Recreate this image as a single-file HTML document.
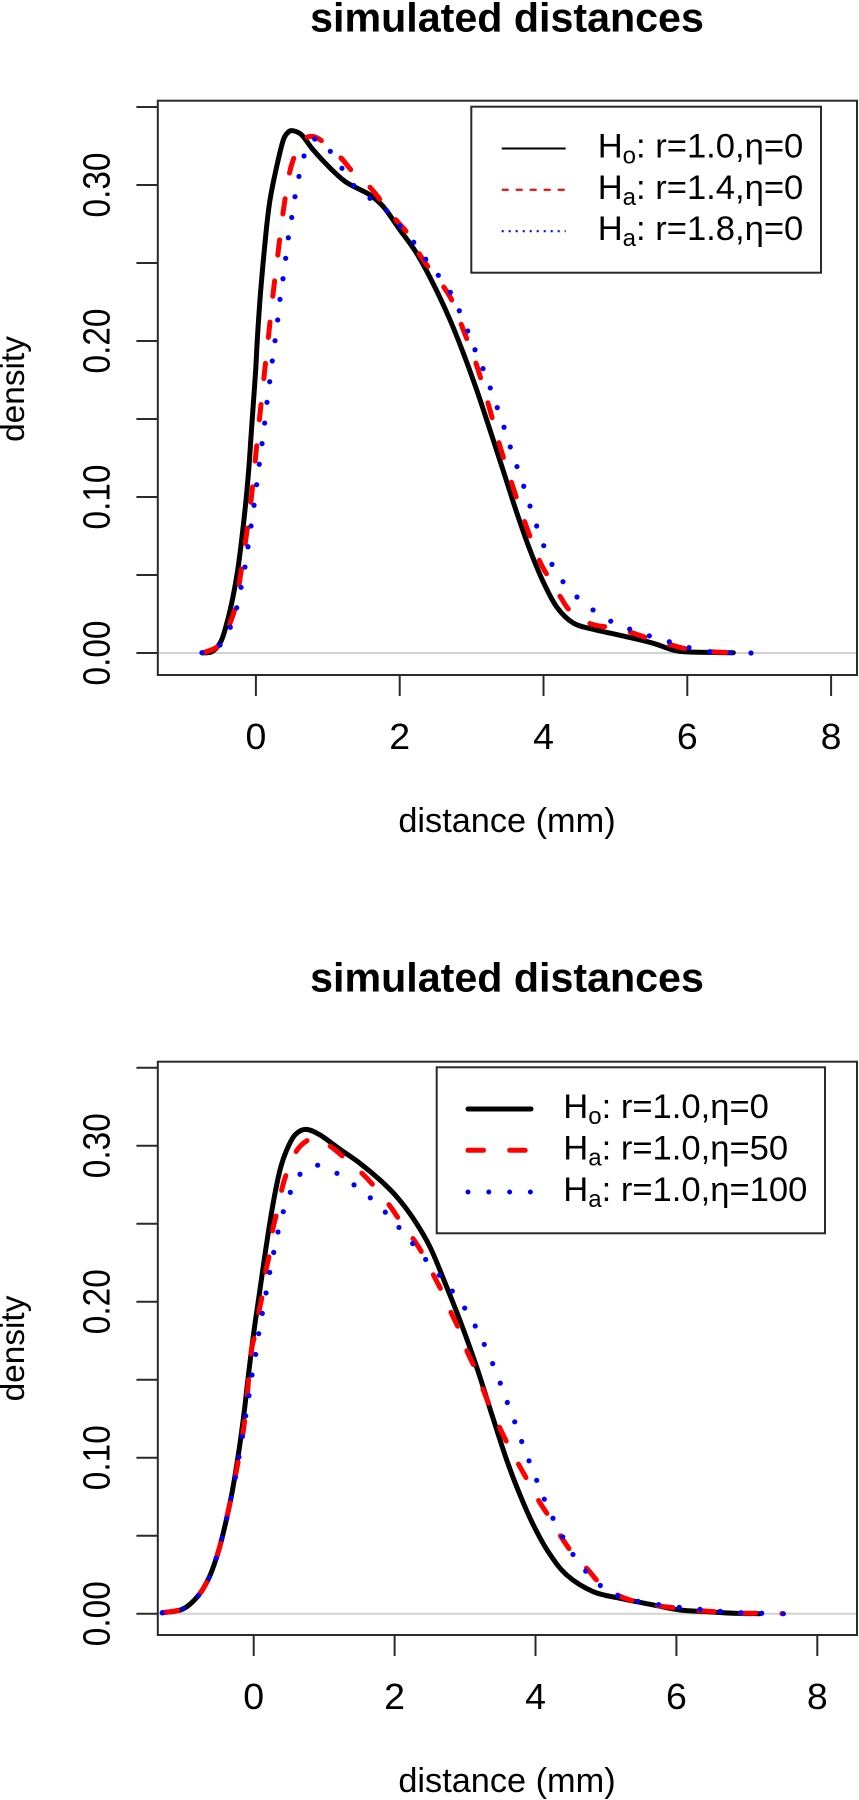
<!DOCTYPE html>
<html lang="en">
<head>
<meta charset="utf-8">
<title>simulated distances</title>
<style>
html,body{margin:0;padding:0;background:#fff;}
svg{display:block;font-family:"Liberation Sans",Arial,sans-serif;}
</style>
</head>
<body>
<svg id="chart" xmlns="http://www.w3.org/2000/svg" width="859" height="1800" viewBox="0 0 859 1800">
  <g id="panelTop"></g>
  <g id="panelBottom"></g>
</svg>
<script>
// ---------- shared tick values ----------
var xTicks = [0, 2, 4, 6, 8];
var yTicks = [0, 0.05, 0.10, 0.15, 0.20, 0.25, 0.30, 0.35];
var yTickLabels = ["0.00", "", "0.10", "", "0.20", "", "0.30", ""];

// ---------- top panel series ----------
var topBlackX = [-0.750,-0.615,-0.499,-0.430,-0.337,-0.253,-0.193,-0.142,-0.100,-0.068,-0.035,-0.003,0.025,0.071,0.140,0.196,0.289,0.381,0.446,0.512,0.637,0.798,1.031,1.239,1.402,1.587,1.772,2.004,2.236,2.467,2.700,2.885,3.071,3.256,3.441,3.627,3.812,3.997,4.184,4.414,4.693,5.157,5.527,5.805,6.038,6.640];
var topBlackY = [0.0001,0.0008,0.0063,0.0148,0.0319,0.0532,0.0746,0.0960,0.1173,0.1387,0.1603,0.1814,0.2051,0.2348,0.2692,0.2904,0.3118,0.3288,0.3337,0.3348,0.3321,0.3224,0.3109,0.3023,0.2981,0.2936,0.2861,0.2712,0.2562,0.2366,0.2135,0.1922,0.1686,0.1429,0.1167,0.0901,0.0660,0.0455,0.0295,0.0192,0.0152,0.0104,0.0062,0.0019,0.0006,0.0002];

var topRedX = [-0.732,-0.569,-0.444,-0.360,-0.291,-0.235,-0.152,-0.072,-0.013,0.047,0.108,0.172,0.234,0.303,0.373,0.465,0.534,0.613,0.707,0.822,0.947,1.188,1.346,1.587,1.750,1.949,2.120,2.273,2.421,2.616,2.745,2.885,3.061,3.232,3.385,3.558,3.743,3.951,4.067,4.239,4.383,4.661,4.901,5.227,5.458,5.783,6.014,6.316,6.640];
var topRedY = [0.0002,0.0030,0.0083,0.0190,0.0287,0.0436,0.0692,0.0960,0.1220,0.1489,0.1750,0.2017,0.2284,0.2545,0.2808,0.3071,0.3181,0.3269,0.3306,0.3308,0.3271,0.3171,0.3085,0.2985,0.2893,0.2776,0.2684,0.2558,0.2460,0.2344,0.2242,0.2071,0.1857,0.1596,0.1340,0.1088,0.0835,0.0585,0.0489,0.0357,0.0265,0.0186,0.0165,0.0130,0.0094,0.0051,0.0024,0.0008,0.0002];

var topBlueX = [-0.750,-0.499,-0.356,-0.267,-0.207,-0.152,-0.110,-0.068,-0.026,0.011,0.047,0.085,0.122,0.154,0.192,0.228,0.266,0.303,0.335,0.377,0.414,0.451,0.498,0.544,0.599,0.669,0.818,1.035,1.197,1.360,1.587,1.819,2.004,2.195,2.362,2.537,2.704,2.829,2.946,3.047,3.159,3.260,3.357,3.451,3.538,3.631,3.725,3.812,3.905,4.003,4.118,4.271,4.466,4.689,4.935,5.199,5.472,5.750,6.024,6.312,6.604,6.886];
var topBlueY = [0.0002,0.0051,0.0165,0.0290,0.0421,0.0551,0.0681,0.0814,0.0947,0.1079,0.1210,0.1342,0.1474,0.1607,0.1739,0.1872,0.2002,0.2135,0.2267,0.2399,0.2530,0.2662,0.2792,0.2925,0.3055,0.3186,0.3295,0.3216,0.3107,0.2997,0.2915,0.2836,0.2737,0.2633,0.2524,0.2421,0.2312,0.2194,0.2064,0.1944,0.1823,0.1699,0.1573,0.1447,0.1321,0.1195,0.1069,0.0942,0.0814,0.0688,0.0568,0.0457,0.0359,0.0276,0.0204,0.0153,0.0110,0.0072,0.0035,0.0008,0.0002,0.0000];

// ---------- bottom panel series ----------
var botBlackX = [-1.297,-1.004,-0.786,-0.634,-0.531,-0.450,-0.322,-0.223,-0.142,-0.071,0.000,0.082,0.170,0.267,0.373,0.468,0.586,0.742,0.941,1.225,1.509,1.793,2.030,2.265,2.502,2.740,2.952,3.165,3.378,3.591,3.780,3.969,4.182,4.443,4.820,5.199,5.672,6.051,6.430,6.808,7.187];
var botBlackY = [0.0006,0.0030,0.0116,0.0231,0.0356,0.0484,0.0742,0.1005,0.1268,0.1544,0.1800,0.2056,0.2332,0.2608,0.2844,0.2972,0.3069,0.3105,0.3069,0.2977,0.2887,0.2780,0.2673,0.2533,0.2351,0.2094,0.1851,0.1581,0.1280,0.0985,0.0761,0.0569,0.0396,0.0248,0.0141,0.0099,0.0056,0.0024,0.0013,0.0003,0.0000];

var botRedX = [-1.297,-1.004,-0.786,-0.634,-0.531,-0.450,-0.322,-0.209,-0.120,-0.038,0.018,0.075,0.122,0.170,0.221,0.270,0.326,0.397,0.468,0.610,0.775,0.913,1.107,1.296,1.547,1.722,1.935,2.077,2.275,2.407,2.564,2.677,2.811,2.918,3.032,3.141,3.259,3.354,3.496,3.614,3.766,3.898,4.054,4.192,4.372,4.528,4.749,4.915,5.185,5.436,5.767,6.027,6.359,6.619,6.949,7.211,7.517];
var botRedY = [0.0006,0.0032,0.0116,0.0231,0.0356,0.0484,0.0742,0.1005,0.1268,0.1669,0.1787,0.1936,0.2043,0.2192,0.2299,0.2460,0.2567,0.2716,0.2823,0.2968,0.3037,0.3046,0.2990,0.2919,0.2819,0.2733,0.2613,0.2519,0.2396,0.2299,0.2160,0.2060,0.1921,0.1819,0.1679,0.1573,0.1434,0.1327,0.1188,0.1081,0.0953,0.0846,0.0718,0.0622,0.0487,0.0387,0.0280,0.0195,0.0115,0.0077,0.0049,0.0035,0.0019,0.0011,0.0003,0.0003,0.0000];

var botBlueX = [-1.297,-1.004,-0.786,-0.634,-0.531,-0.450,-0.383,-0.322,-0.261,-0.209,-0.162,-0.114,-0.067,-0.024,0.028,0.071,0.122,0.175,0.227,0.284,0.345,0.420,0.520,0.657,0.908,1.182,1.424,1.655,1.868,2.062,2.257,2.441,2.635,2.819,2.995,3.145,3.273,3.392,3.500,3.600,3.705,3.804,3.908,4.017,4.125,4.248,4.386,4.532,4.713,4.920,5.171,5.455,5.749,6.041,6.335,6.623,6.917,7.211,7.517];
var botBlueY = [0.0006,0.0032,0.0116,0.0231,0.0356,0.0484,0.0613,0.0742,0.0873,0.1005,0.1136,0.1268,0.1398,0.1530,0.1662,0.1795,0.1925,0.2056,0.2188,0.2316,0.2447,0.2577,0.2701,0.2817,0.2875,0.2823,0.2749,0.2666,0.2574,0.2476,0.2373,0.2271,0.2170,0.2068,0.1959,0.1844,0.1726,0.1603,0.1478,0.1354,0.1230,0.1104,0.0980,0.0855,0.0734,0.0612,0.0493,0.0380,0.0273,0.0181,0.0115,0.0079,0.0058,0.0041,0.0028,0.0015,0.0006,0.0003,0.0000];

// ---------- legend text ----------
var topLegendSubs = ["o", "a", "a"];
var topLegendTexts = [": r=1.0,\u03B7=0", ": r=1.4,\u03B7=0", ": r=1.8,\u03B7=0"];
var botLegendSubs = ["o", "a", "a"];
var botLegendTexts = [": r=1.0,\u03B7=0", ": r=1.0,\u03B7=50", ": r=1.0,\u03B7=100"];

// ---------- axis functions ----------
function xScaleTop(v) { return 255.9 + 71.9 * v; }
function yScaleTop(v) { return 653 - 1560 * v; }
function xScaleBot(v) { return 253.7 + 70.45 * v; }
function yScaleBot(v) { return 1613.7 - 1560 * v; }

var NS = "http://www.w3.org/2000/svg";
var AXIS = "#2a2a2a";

function mk(tag, parent, attrs) {
  var el = document.createElementNS(NS, tag);
  for (var k in attrs) el.setAttribute(k, attrs[k]);
  parent.appendChild(el);
  return el;
}

function smoothPath(xs, ys, sx, sy) {
  var p = xs.map(function (x, i) { return [sx(x), sy(ys[i])]; });
  var d = "M" + p[0][0].toFixed(2) + " " + p[0][1].toFixed(2);
  for (var i = 0; i < p.length - 1; i++) {
    var a = p[Math.max(i - 1, 0)], b = p[i], c = p[i + 1], e = p[Math.min(i + 2, p.length - 1)];
    var c1x = b[0] + (c[0] - a[0]) / 6, c1y = b[1] + (c[1] - a[1]) / 6;
    var c2x = c[0] - (e[0] - b[0]) / 6, c2y = c[1] - (e[1] - b[1]) / 6;
    d += "C" + c1x.toFixed(2) + " " + c1y.toFixed(2) + " " + c2x.toFixed(2) + " " + c2y.toFixed(2) + " " + c[0].toFixed(2) + " " + c[1].toFixed(2);
  }
  return d;
}

function drawPanel(g, opt) {
  var L = 157.8, R = 857;
  var sx = opt.sx, sy = opt.sy;

  var title = mk("text", g, {"x": 507, "y": opt.titleY, "text-anchor": "middle", "font-size": "41.2", "font-weight": "700", "fill": "#000"});
  
  
  title.textContent = "simulated distances";

  var zero = mk("line", g, {x1: L, x2: R, y1: sy(0), y2: sy(0), stroke: "#d2d2d2", "stroke-width": 2});
  
  

  var box = mk("rect", g, {x: L, y: opt.top, width: R - L, height: opt.bottom - opt.top, fill: "none", stroke: AXIS, "stroke-width": 2});
  
  

  yTicks.forEach(function (v, i) {
    var t = mk("line", g, {x1: 136.4, x2: L, y1: sy(v), y2: sy(v), stroke: AXIS, "stroke-width": 2});
    
    
    if (yTickLabels[i]) {
      var lb = mk("text", g, {"transform": "translate(109.5," + sy(v) + ") scale(1.13,1) rotate(-90)", "text-anchor": "middle", "font-size": "33.4", "fill": "#000"});
      
      
      lb.textContent = yTickLabels[i];
    }
  });

  xTicks.forEach(function (v) {
    var t = mk("line", g, {x1: sx(v), x2: sx(v), y1: opt.bottom, y2: opt.bottom + 21, stroke: AXIS, "stroke-width": 2});
    
    
    var lb = mk("text", g, {"transform": "translate(" + sx(v) + "," + (opt.bottom + 74) + ") scale(1.05,1)", "text-anchor": "middle", "font-size": "35.7", "fill": "#000"});
    
    
    lb.textContent = String(v);
  });

  var xt = mk("text", g, {"x": 507, "y": opt.bottom + 157, "text-anchor": "middle", "font-size": "34.3", "fill": "#000"});
  
  
  xt.textContent = "distance (mm)";

  var yt = mk("text", g, {"transform": "translate(24," + opt.yTitleY + ") rotate(-90)", "text-anchor": "middle", "font-size": "33.4", "fill": "#000"});
  
  
  yt.textContent = "density";

  var black = mk("path", g, {d: smoothPath(opt.blackX, opt.blackY, sx, sy), fill: "none", stroke: "#000", "stroke-width": 5, "stroke-linejoin": "round", "stroke-linecap": "round"});
  
  

  var red = mk("path", g, {d: smoothPath(opt.redX, opt.redY, sx, sy), fill: "none", stroke: "#f00", "stroke-width": 5, "stroke-linecap": "round", "stroke-linejoin": "round"});
  
  
  var len = red.getTotalLength() - opt.dashTrim;
  var period = len / Math.round(len / 41.7);
  red.setAttribute("stroke-dasharray", (period * 0.372).toFixed(3) + " " + (period * 0.628).toFixed(3));

  var blue = mk("g", g, {fill: "#00f"});
  
  
  opt.blueX.forEach(function (x, i) {
    var dot = mk("circle", blue, {cx: sx(x), cy: sy(opt.blueY[i]), r: 2.6});
    
    
  });

  var lb = opt.legend;
  var legend = mk("g", g, {});
  
  
  var lrect = mk("rect", legend, {x: lb.l, y: lb.t, width: lb.r - lb.l, height: lb.b - lb.t, fill: "#fff", stroke: AXIS, "stroke-width": 2});
  
  

  lb.styles.forEach(function (st, i) {
    var y = lb.lineY[i];
    var ln = mk("line", legend, {x1: lb.x1, x2: lb.x2, y1: y, y2: y, stroke: st.c, "stroke-width": st.w, "stroke-dasharray": st.d, "stroke-linecap": st.cap});
    
    

    var tx = mk("text", legend, {"x": lb.tx, "y": y + 9, "font-size": "34.6", "fill": "#000"});
    
    
    var a = mk("tspan", tx, {});
    a.textContent = "H";
    var b = mk("tspan", tx, {"font-size": "24", dy: "6"});
    b.textContent = lb.subs[i];
    var c = mk("tspan", tx, {dy: "-6"});
    c.textContent = lb.texts[i];
  });
}

drawPanel(document.getElementById("panelTop"), {
  sx: xScaleTop, sy: yScaleTop, top: 100.7, bottom: 675, titleY: 31.5, yTitleY: 389, dashTrim: 23,
  blackX: topBlackX, blackY: topBlackY, redX: topRedX, redY: topRedY, blueX: topBlueX, blueY: topBlueY,
  legend: {
    l: 471.3, r: 821, t: 106.7, b: 272.7, x1: 501.7, x2: 565.7, tx: 597.7,
    lineY: [148.5, 189.8, 231.2], subs: topLegendSubs, texts: topLegendTexts,
    styles: [
      {c: "#000", w: 2, d: "none", cap: "butt"},
      {c: "#f00", w: 2.2, d: "7 7", cap: "butt"},
      {c: "#00f", w: 2.2, d: "2 5", cap: "butt"}
    ]
  }
});

drawPanel(document.getElementById("panelBottom"), {
  sx: xScaleBot, sy: yScaleBot, top: 1061.7, bottom: 1635, titleY: 991.7, yTitleY: 1348.5, dashTrim: 1.5,
  blackX: botBlackX, blackY: botBlackY, redX: botRedX, redY: botRedY, blueX: botBlueX, blueY: botBlueY,
  legend: {
    l: 436.7, r: 825, t: 1067.3, b: 1233.3, x1: 468, x2: 531, tx: 563.3,
    lineY: [1109, 1150.3, 1192], subs: botLegendSubs, texts: botLegendTexts,
    styles: [
      {c: "#000", w: 5, d: "none", cap: "round"},
      {c: "#f00", w: 5, d: "15.5 26.2", cap: "round"},
      {c: "#00f", w: 5, d: "0 20.8", cap: "round"}
    ]
  }
});
</script>
</body>
</html>
